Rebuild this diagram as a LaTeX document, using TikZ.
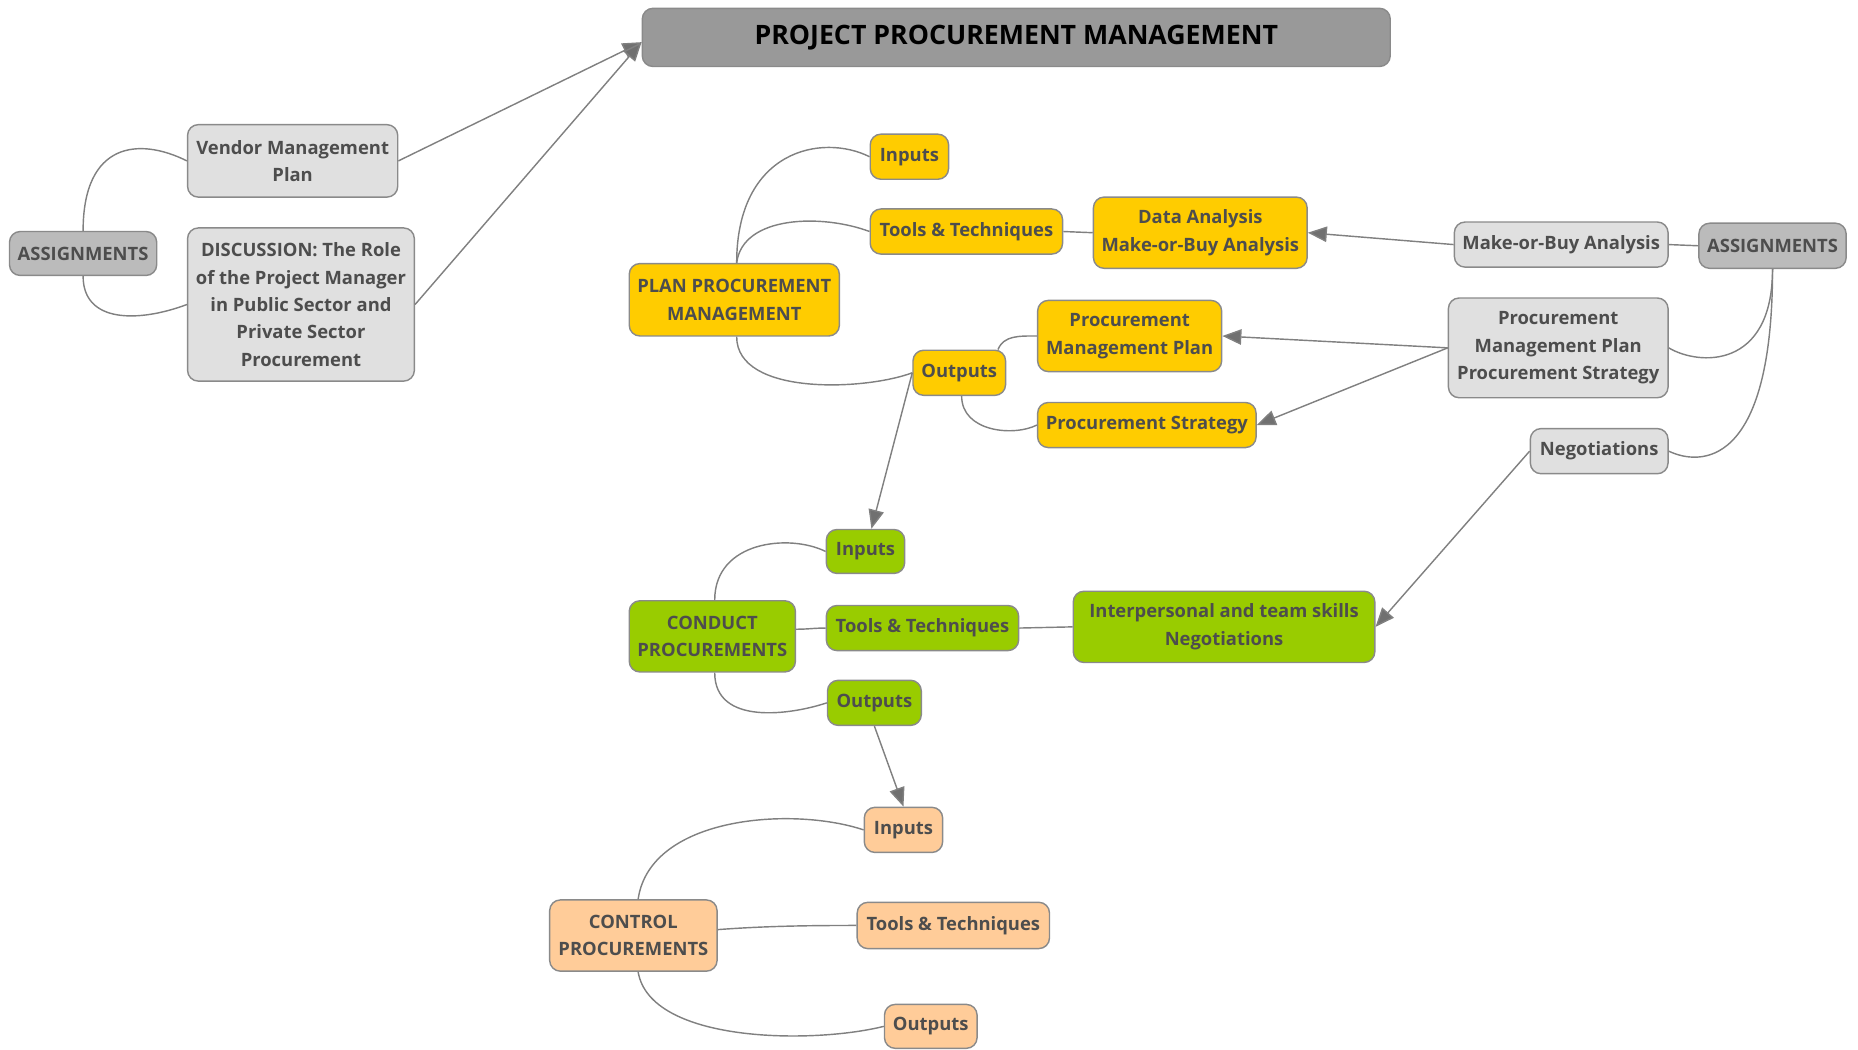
\documentclass[tikz,border=0pt]{standalone}
\usepackage{fontspec}
\setmainfont{Open Sans}
\usetikzlibrary{arrows.meta}
\definecolor{yel}{HTML}{FFCC00}
\definecolor{grn}{HTML}{99CC00}
\definecolor{org}{HTML}{FFCC99}
\definecolor{lgray}{HTML}{E0E0E0}
\definecolor{mgray}{HTML}{BBBBBB}
\definecolor{tgray}{HTML}{999999}
\definecolor{bord}{HTML}{8A8A8A}
\definecolor{txt}{HTML}{4D4D4D}
\definecolor{lin}{HTML}{808080}
\definecolor{arr}{HTML}{707070}
\tikzset{
  box/.style={draw=bord, line width=1.2pt, rounded corners=9pt, text=txt, align=center,
    inner sep=0pt, font=\bfseries\fontsize{15.5}{23}\selectfont},
  link/.style={draw=lin, line width=1.2pt},
  arrowlink/.style={draw=lin, line width=1.2pt, -{Triangle[length=16pt,width=13pt,fill=arr]}},
}
\begin{document}
\begin{tikzpicture}[x=1pt,y=-1pt]
\useasboundingbox (0,0) rectangle (1565,884);
% title
\node[box, fill=tgray, text=black, minimum width=630pt, minimum height=49pt,
  font=\bfseries\fontsize{22.5}{26}\selectfont] (title) at (856,31.5) {PROJECT PROCUREMENT MANAGEMENT};
% left assignments
\node[box, fill=mgray, minimum width=124pt, minimum height=37pt] (asgL) at (70,213.5) {ASSIGNMENTS};
\node[box, fill=lgray, minimum width=177pt, minimum height=61pt] (vmp) at (246.5,135.5) {Vendor Management\\Plan};
\node[box, fill=lgray, minimum width=191pt, minimum height=129pt] (disc) at (253.5,256.5) {DISCUSSION: The Role\\of the Project Manager\\in Public Sector and\\Private Sector\\Procurement};
% plan
\node[box, fill=yel, minimum width=177pt, minimum height=61pt] (ppm) at (618.5,252.5) {PLAN PROCUREMENT\\MANAGEMENT};
\node[box, fill=yel, minimum width=66pt, minimum height=38pt] (pin) at (766,132) {Inputs};
\node[box, fill=yel, minimum width=162pt, minimum height=38pt] (ptt) at (814,195) {Tools \& Techniques};
\node[box, fill=yel, minimum width=180pt, minimum height=60pt] (pda) at (1011,196) {Data Analysis\\Make-or-Buy Analysis};
\node[box, fill=yel, minimum width=78pt, minimum height=38pt] (pout) at (808,314) {Outputs};
\node[box, fill=yel, minimum width=155pt, minimum height=60pt] (ppmp) at (951.5,283) {Procurement\\Management Plan};
\node[box, fill=yel, minimum width=184pt, minimum height=38pt] (pps) at (966,358) {Procurement Strategy};
% right assignments
\node[box, fill=mgray, minimum width=124pt, minimum height=38pt] (asgR) at (1493,207) {ASSIGNMENTS};
\node[box, fill=lgray, minimum width=180pt, minimum height=38pt] (gmb) at (1315,206) {Make-or-Buy Analysis};
\node[box, fill=lgray, minimum width=185pt, minimum height=84pt] (gpmp) at (1312.5,293) {Procurement\\Management Plan\\Procurement Strategy};
\node[box, fill=lgray, minimum width=116pt, minimum height=38pt] (gneg) at (1347,380) {Negotiations};
% conduct
\node[box, fill=grn, minimum width=140pt, minimum height=60pt] (cp) at (600,536) {CONDUCT\\PROCUREMENTS};
\node[box, fill=grn, minimum width=66pt, minimum height=37pt] (cin) at (729,464.5) {Inputs};
\node[box, fill=grn, minimum width=162pt, minimum height=38pt] (ctt) at (777,529) {Tools \& Techniques};
\node[box, fill=grn, minimum width=79pt, minimum height=38pt] (cout) at (736.5,592) {Outputs};
\node[box, fill=grn, minimum width=254pt, minimum height=60pt] (cis) at (1031,528) {Interpersonal and team skills\\Negotiations};
% control
\node[box, fill=org, minimum width=141pt, minimum height=60pt] (ctl) at (533.5,788) {CONTROL\\PROCUREMENTS};
\node[box, fill=org, minimum width=66pt, minimum height=38pt] (oin) at (761,699) {Inputs};
\node[box, fill=org, minimum width=162pt, minimum height=39pt] (ott) at (803,779.5) {Tools \& Techniques};
\node[box, fill=org, minimum width=78pt, minimum height=37pt] (oout) at (784,864.5) {Outputs};
% connectors
\draw[arrowlink] (vmp.east) -- ([yshift=-4pt]title.west);
\draw[arrowlink] (disc.east) -- ([yshift=-4pt]title.west);
\draw[link] (asgL.north) .. controls +(0,-75) and +(-40,-20) .. (vmp.west);
\draw[link] (asgL.south) .. controls +(0,40) and +(-40,15) .. (disc.west);
\draw[link] ([xshift=2pt]ppm.north) .. controls +(0,-95) and +(-40,-20) .. (pin.west);
\draw[link] ([xshift=2pt]ppm.north) .. controls +(5,-40) and +(-40,-15) .. (ptt.west);
\draw[link] ([xshift=2pt]ppm.south) .. controls +(0,50) and +(-40,15) .. (pout.west);
\draw[link] (ptt.east) -- (pda.west);
\draw[link] ([xshift=-7pt]pout.north east) .. controls +(5,-12) and +(-15,0) .. (ppmp.west);
\draw[link] ([xshift=2pt]pout.south) .. controls +(0,30) and +(-20,10) .. (pps.west);
\draw[arrowlink] (gmb.west) -- (pda.east);
\draw[link] (asgR.west) -- (gmb.east);
\draw[link] (asgR.south) .. controls +(0,85) and +(25,15) .. (gpmp.east);
\draw[link] (asgR.south) .. controls +(0,170) and +(25,12) .. (gneg.east);
\draw[arrowlink] (gpmp.west) -- (ppmp.east);
\draw[arrowlink] (gpmp.west) -- (pps.east);
\draw[arrowlink] (gneg.west) -- (cis.east);
\draw[arrowlink] (pout.west) -- ([xshift=5pt]cin.north);
\draw[link] ([xshift=2pt]cp.north) .. controls +(0,-50) and +(-30,-15) .. (cin.west);
\draw[link] ([yshift=6pt]cp.east) .. controls +(10,0) and +(-10,0) .. (ctt.west);
\draw[link] ([xshift=2pt]cp.south) .. controls +(0,45) and +(-30,10) .. (cout.west);
\draw[link] (ctt.east) -- (cis.west);
\draw[arrowlink] (cout.south) -- (oin.north);
\draw[link] ([xshift=4pt]ctl.north) .. controls +(10,-70) and +(-60,-20) .. (oin.west);
\draw[link] ([yshift=5pt]ctl.east) .. controls +(40,-3) and +(-40,0) .. (ott.west);
\draw[link] ([xshift=4pt]ctl.south) .. controls +(10,60) and +(-60,15) .. (oout.west);
\end{tikzpicture}
\end{document}
